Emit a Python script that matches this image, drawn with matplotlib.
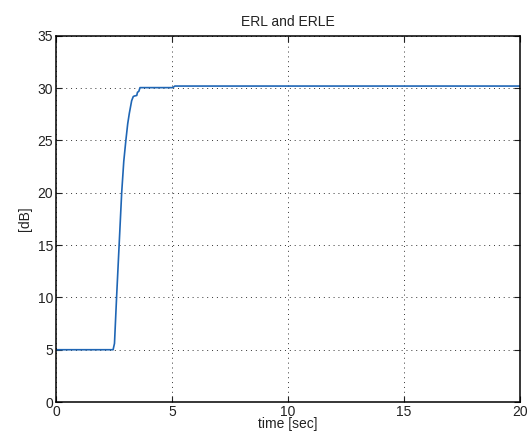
import matplotlib
matplotlib.use("Agg")
import matplotlib.pyplot as plt

# time [sec] and level [dB]
time_sec = [0.0, 2.46, 2.52, 2.61, 2.72, 2.83, 2.92, 3.01, 3.09, 3.16, 3.26, 3.33, 3.38,
            3.48, 3.51, 3.57, 3.62, 5.03, 5.12, 20.0]
erle_db = [5.0, 5.0, 5.6, 10.0, 15.0, 20.0, 23.0, 25.0, 26.6, 27.6, 28.8, 29.2, 29.25,
           29.3, 29.6, 29.7, 30.05, 30.05, 30.2, 30.2]

x_ticks = [0, 5, 10, 15, 20]
y_ticks = [0, 5, 10, 15, 20, 25, 30, 35]

plt.rcParams['font.family'] = ['Liberation Sans', 'DejaVu Sans']
plt.rcParams['font.size'] = 10

fig = plt.figure(figsize=(5.30, 4.37), dpi=100)
ax = fig.add_axes([0.1057, 0.080, 0.8755, 0.838])

ax.plot(time_sec, erle_db, color='#1f66b5', linewidth=1.2)

ax.set_xlim(0, 20)
ax.set_ylim(0, 35)
ax.set_xticks(x_ticks)
ax.set_yticks(y_ticks)
ax.grid(True, linestyle=(0, (1, 4)), color='#333333', linewidth=0.7)
ax.tick_params(direction='in', top=True, right=True, length=4, width=0.8, pad=2,
               colors='#222222')
for s in ax.spines.values():
    s.set_linewidth(1.1)

ax.set_title('ERL and ERLE', fontsize=10, pad=7, color='#222222')
ax.set_xlabel('time [sec]', fontsize=10, labelpad=-1, color='#222222')
ax.set_ylabel('[dB]', fontsize=10, labelpad=4, color='#222222')

fig.savefig('out.png', dpi=100)
plt.close()
